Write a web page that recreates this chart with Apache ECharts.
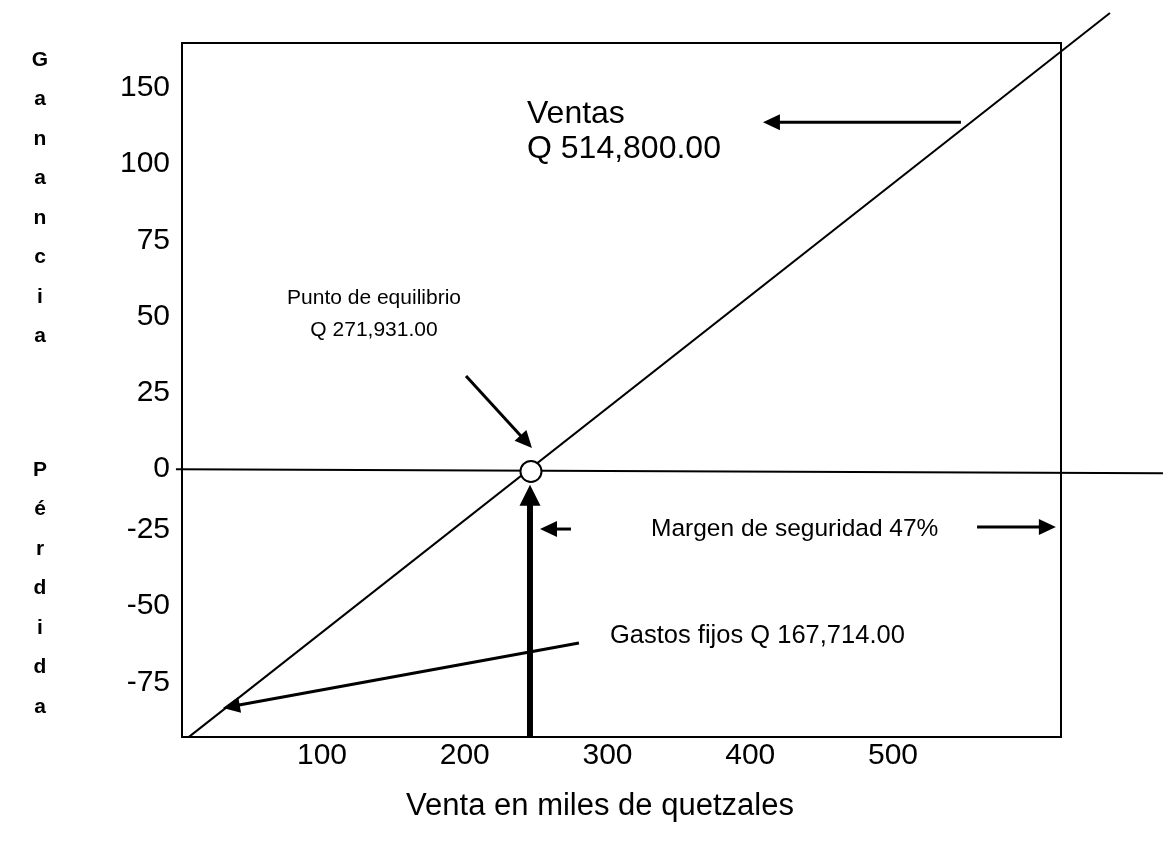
<!DOCTYPE html>
<html><head><meta charset="utf-8">
<script src="https://cdn.jsdelivr.net/npm/echarts@6/dist/echarts.min.js"></script>
<style>html,body{margin:0;padding:0;background:#fff}#c{width:1163px;height:846px}</style>
</head><body><div id="c"></div>
<script>
// Tick values / labels
const xTickValues = [100, 200, 300, 400, 500];
const yUpperTickValues = [0, 25, 50, 75, 100, 125];
const yUpperTickLabels = ['0', '25', '50', '75', '100', '150'];
const yLowerTickValues = [-75, -50, -25];
const yLowerTickLabels = ['-75', '-50', '-25'];

// Lines (axis units): [x0, y0, x1, y1]
const salesLine = [6.8, -87.9, 652.0, 149.6];
const zeroLine = [-2.3, -0.1, 689.1, -1.4];
const breakEvenPoint = [[246.4, -0.8]];

// Annotation arrows: [xFrom, yFrom, xTip, yTip]
const arrowVentas = [547.6, 113.8, 408.9, 113.8];
const arrowPunto = [200.9, 30.5, 247.1, 6.9];
const arrowMargenLeft = [274.4, -19.7, 252.7, -19.7];
const arrowMargenRight = [558.9, -19.0, 614.1, -19.0];
const arrowGastos = [280.0, -57.1, 30.6, -78.4];
const arrowFixedCost = [245.7, -87.9, 245.7, -5.2];

const FONT = 'Liberation Sans, Arial, sans-serif';
const chart = echarts.init(document.getElementById('c'), null, {renderer: 'canvas'});

function txt(text, x, y, size, align, bold) {
  return {type: 'text', style: {text: text, x: x, y: y, fill: '#000', fontSize: size,
    fontFamily: FONT, fontWeight: bold ? 'bold' : 'normal', textAlign: align || 'left', textVerticalAlign: 'middle'}};
}
function vtxt(text, x, y) {
  return {type: 'text', style: {text: text.split('').join('\n'), x: x, y: y, fill: '#000', fontSize: 21,
    fontFamily: FONT, fontWeight: 'bold', textAlign: 'center', textVerticalAlign: 'top', lineHeight: 39.5}};
}

function segmentRenderer(width) {
  return function (params, api) {
    const p0 = api.coord([api.value(0), api.value(1)]);
    const p1 = api.coord([api.value(2), api.value(3)]);
    return {type: 'line', shape: {x1: p0[0], y1: p0[1], x2: p1[0], y2: p1[1]},
      style: {stroke: '#000', lineWidth: width}};
  };
}
function arrowRenderer(width, headLen, headWidth) {
  return function (params, api) {
    const p0 = api.coord([api.value(0), api.value(1)]);
    const p1 = api.coord([api.value(2), api.value(3)]);
    const dx = p1[0] - p0[0], dy = p1[1] - p0[1];
    const len = Math.sqrt(dx * dx + dy * dy);
    const ux = dx / len, uy = dy / len;
    const bx = p1[0] - ux * headLen, by = p1[1] - uy * headLen;
    const nx = -uy * headWidth / 2, ny = ux * headWidth / 2;
    return {type: 'group', children: [
      {type: 'line', shape: {x1: p0[0], y1: p0[1], x2: bx + ux * 2, y2: by + uy * 2},
        style: {stroke: '#000', lineWidth: width}},
      {type: 'polygon', shape: {points: [[p1[0], p1[1]], [bx + nx, by + ny], [bx - nx, by - ny]]},
        style: {fill: '#000'}}
    ]};
  };
}

chart.setOption({
  animation: false,
  backgroundColor: '#fff',
  grid: {left: 182, right: 102, top: 43, bottom: 109, show: true, borderColor: '#000', borderWidth: 2, backgroundColor: 'transparent'},
  xAxis: {type: 'value', min: 1.93, max: 617.7,
    axisLine: {show: false}, axisTick: {show: false}, splitLine: {show: false},
    axisLabel: {customValues: xTickValues, fontSize: 30, color: '#000', fontFamily: FONT, margin: 4}},
  yAxis: [
    {type: 'value', position: 'left', min: -87.93, max: 139.76,
      axisLine: {show: false}, axisTick: {show: false}, splitLine: {show: false},
      axisLabel: {customValues: yUpperTickValues, fontSize: 30, color: '#000', fontFamily: FONT, margin: 12,
        formatter: function (v) { return yUpperTickLabels[yUpperTickValues.indexOf(v)]; }}},
    {type: 'value', position: 'left', min: -92.91, max: 134.78,
      axisLine: {show: false}, axisTick: {show: false}, splitLine: {show: false},
      axisLabel: {customValues: yLowerTickValues, fontSize: 30, color: '#000', fontFamily: FONT, margin: 12,
        formatter: function (v) { return yLowerTickLabels[yLowerTickValues.indexOf(v)]; }}}
  ],
  series: [
    {type: 'custom', name: 'Ventas', clip: false, renderItem: segmentRenderer(2), data: [salesLine], z: 3, silent: true},
    {type: 'custom', name: 'Cero', clip: false, renderItem: segmentRenderer(2), data: [zeroLine], z: 3, silent: true},
    {type: 'custom', name: 'Flechas', clip: false, renderItem: arrowRenderer(3, 17, 16),
      data: [arrowVentas, arrowPunto, arrowMargenLeft, arrowMargenRight, arrowGastos], z: 4, silent: true},
    {type: 'custom', name: 'Gastos fijos', clip: false, renderItem: arrowRenderer(6, 21, 21),
      data: [arrowFixedCost], z: 4, silent: true},
    {type: 'scatter', data: breakEvenPoint, symbol: 'circle', symbolSize: 21,
      itemStyle: {color: '#fff', borderColor: '#000', borderWidth: 2, opacity: 1}, z: 6}
  ],
  graphic: [
    txt('Ventas', 527, 114, 32, 'left'),
    txt('Q 514,800.00', 527, 149, 32, 'left'),
    txt('Punto de equilibrio', 374, 298, 21, 'center'),
    txt('Q 271,931.00', 374, 330, 21, 'center'),
    txt('Margen de seguridad 47%', 651, 529, 24.5, 'left'),
    txt('Gastos fijos Q 167,714.00', 610, 636, 25.5, 'left'),
    txt('Venta en miles de quetzales', 600, 806, 31, 'center'),
    vtxt('Ganancia', 40, 40),
    vtxt('Pérdida', 40, 450)
  ]
});
</script></body></html>
